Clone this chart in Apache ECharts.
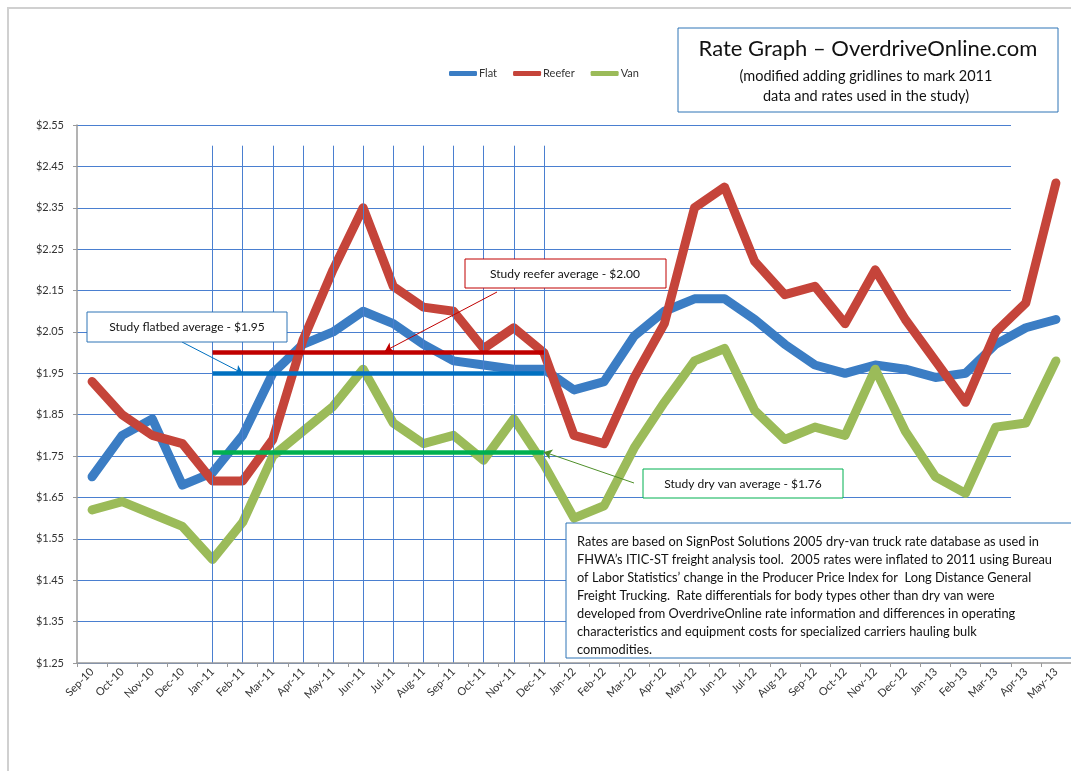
<!DOCTYPE html>
<html>
<head>
<meta charset="utf-8">
<script src="https://cdn.jsdelivr.net/npm/echarts@6/dist/echarts.min.js"></script>
<style>
  html, body { margin: 0; padding: 0; background: #ffffff; }
  #chart { width: 1071px; height: 771px; }
</style>
</head>
<body>
<div id="chart"></div>
<script>
// Monthly truck rates ($ per mile), Sep 2010 - May 2013
const months = ['Sep-10','Oct-10','Nov-10','Dec-10','Jan-11','Feb-11','Mar-11','Apr-11','May-11','Jun-11','Jul-11','Aug-11',
  'Sep-11','Oct-11','Nov-11','Dec-11','Jan-12','Feb-12','Mar-12','Apr-12','May-12','Jun-12','Jul-12','Aug-12',
  'Sep-12','Oct-12','Nov-12','Dec-12','Jan-13','Feb-13','Mar-13','Apr-13','May-13'];

const flat = [1.70, 1.80, 1.84, 1.68, 1.71, 1.80, 1.95, 2.02, 2.05, 2.10, 2.07, 2.02,
  1.98, 1.97, 1.96, 1.96, 1.91, 1.93, 2.04, 2.10, 2.13, 2.13, 2.08, 2.02,
  1.97, 1.95, 1.97, 1.96, 1.94, 1.95, 2.02, 2.06, 2.08];

const reefer = [1.93, 1.85, 1.80, 1.78, 1.69, 1.69, 1.79, 2.03, 2.20, 2.35, 2.16, 2.11,
  2.10, 2.01, 2.06, 2.00, 1.80, 1.78, 1.94, 2.07, 2.35, 2.40, 2.22, 2.14,
  2.16, 2.07, 2.20, 2.08, 1.98, 1.88, 2.05, 2.12, 2.41];

const van = [1.62, 1.64, 1.61, 1.58, 1.50, 1.59, 1.75, 1.81, 1.87, 1.96, 1.83, 1.78,
  1.80, 1.74, 1.84, 1.73, 1.60, 1.63, 1.77, 1.88, 1.98, 2.01, 1.86, 1.79,
  1.82, 1.80, 1.96, 1.81, 1.70, 1.66, 1.82, 1.83, 1.98];

// 2011 study period and the averages used in the study
const studyMonths = months.slice(4, 16);
const avgFlat = 1.95;
const avgReefer = 2.00;
const avgVan = 1.76;
const studyLineTop = 2.50;

// Value axis range and tick step
const yMin = 1.25;
const yMax = 2.55;
const yStep = 0.10;

const seriesNames = ['Flat', 'Reefer', 'Van'];
const colors = ['#3b7dc4', '#c5443a', '#9bbb59'];

const noteText = [
  'Rates are based on SignPost Solutions 2005 dry-van truck rate database as used in',
  'FHWA\u2019s ITIC-ST freight analysis tool.  2005 rates were inflated to 2011 using Bureau',
  'of Labor Statistics\u2019 change in the Producer Price Index for  Long Distance General',
  'Freight Trucking.  Rate differentials for body types other than dry van were',
  'developed from OverdriveOnline rate information and differences in operating',
  'characteristics and equipment costs for specialized carriers hauling bulk',
  'commodities.'
].join('\n');

const FONT = 'Lato, "Open Sans", sans-serif';
const chart = echarts.init(document.getElementById('chart'));

const gridTop = 125, gridHeight = 538;

chart.setOption({
  animation: false,
  backgroundColor: '#ffffff',
  textStyle: { fontFamily: FONT },
  legend: {
    data: seriesNames,
    left: 444,
    top: 63,
    icon: 'roundRect',
    itemWidth: 28,
    itemHeight: 5,
    itemGap: 16,
    textStyle: { fontSize: 11, color: '#333', padding: [0, 0, 0, -3], fontFamily: FONT }
  },
  grid: [
    { left: 77, top: gridTop, width: 934, height: gridHeight },
    { left: 77, top: gridTop, width: 998, height: gridHeight }
  ],
  xAxis: [
    { gridIndex: 0, type: 'value', min: 0, max: 1, show: false },
    {
      gridIndex: 1, type: 'category', data: months, z: 5,
      axisLine: { lineStyle: { color: '#9a9a9a', width: 1.5 } },
      axisTick: { show: true, length: 4, lineStyle: { color: '#9a9a9a' } },
      axisLabel: { rotate: 45, fontSize: 11, color: '#333', margin: 7, interval: 0 }
    }
  ],
  yAxis: [
    {
      gridIndex: 0, type: 'value', min: yMin, max: yMax, interval: yStep,
      axisLine: { show: true, lineStyle: { color: '#9a9a9a', width: 1.5 } },
      axisTick: { show: true, length: 4, lineStyle: { color: '#9a9a9a' } },
      axisLabel: { fontSize: 11, color: '#333', margin: 13, formatter: v => '$' + v.toFixed(2) },
      splitLine: { show: true, lineStyle: { color: '#4a7fd0', width: 1 } }
    },
    { gridIndex: 1, type: 'value', min: yMin, max: yMax, show: false }
  ],
  series: [
    ...[flat, reefer, van].map((d, i) => ({
      name: seriesNames[i],
      type: 'line',
      xAxisIndex: 1, yAxisIndex: 1,
      data: d,
      showSymbol: false,
      color: colors[i],
      lineStyle: { width: 9, color: colors[i], cap: 'round', join: 'round' },
      z: 2 + i
    })),
    {
      // 2011 month gridlines
      name: 'study-months',
      type: 'line', xAxisIndex: 1, yAxisIndex: 1, data: [], z: 6,
      markLine: {
        silent: true, symbol: 'none', animation: false,
        label: { show: false },
        lineStyle: { color: '#4a7fd0', width: 1, type: 'solid' },
        data: studyMonths.map(m => [{ coord: [m, studyLineTop] }, { coord: [m, yMin] }])
      }
    },
    {
      // study averages and their callout arrows
      name: 'study-averages',
      type: 'line', xAxisIndex: 1, yAxisIndex: 1, data: [], z: 7,
      markLine: {
        silent: true, symbol: 'none', animation: false,
        label: { show: false },
        data: [
          [{ coord: [studyMonths[0], avgReefer] }, { coord: [studyMonths[11], avgReefer], lineStyle: { color: '#c00000', width: 4.5, type: 'solid' } }],
          [{ coord: [studyMonths[0], avgFlat] }, { coord: [studyMonths[11], avgFlat], lineStyle: { color: '#0070c0', width: 4.5, type: 'solid' } }],
          [{ coord: [studyMonths[0], avgVan] }, { coord: [studyMonths[11], avgVan], lineStyle: { color: '#00b050', width: 4.5, type: 'solid' } }],
          [{ x: 182, y: 342, symbol: 'none' }, { coord: [studyMonths[1], avgFlat], symbol: 'arrow', symbolSize: 8, lineStyle: { color: '#0070c0', width: 1, type: 'solid' } }],
          [{ x: 497, y: 292, symbol: 'none' }, { x: 385, y: 351, symbol: 'arrow', symbolSize: 8, lineStyle: { color: '#c00000', width: 1, type: 'solid' } }],
          [{ x: 634, y: 483, symbol: 'none' }, { coord: [studyMonths[11], avgVan], symbol: 'arrow', symbolSize: 8, lineStyle: { color: '#4f8f2a', width: 1, type: 'solid' } }]
        ]
      }
    }
  ],
  graphic: [
    { type: 'rect', z: 0, shape: { x: 8, y: 8, width: 1100, height: 800 }, style: { fill: 'none', stroke: '#d0d0d0', lineWidth: 2 } },
    // title box
    { type: 'rect', z: 10, shape: { x: 678, y: 28, width: 380, height: 84 }, style: { fill: '#ffffff', stroke: '#2e75b6', lineWidth: 1 } },
    { type: 'text', z: 11, style: { text: 'Rate Graph \u2013 OverdriveOnline.com', x: 868, y: 49, textAlign: 'center', textVerticalAlign: 'middle', font: '22px ' + FONT, fill: '#111' } },
    { type: 'text', z: 11, style: { text: '(modified adding gridlines to mark 2011', x: 866, y: 76, textAlign: 'center', textVerticalAlign: 'middle', font: '14.5px ' + FONT, fill: '#111' } },
    { type: 'text', z: 11, style: { text: 'data and rates used in the study)', x: 866, y: 96, textAlign: 'center', textVerticalAlign: 'middle', font: '14.5px ' + FONT, fill: '#111' } },
    // callouts
    { type: 'rect', z: 10, shape: { x: 87, y: 312, width: 200, height: 30 }, style: { fill: '#ffffff', stroke: '#2e75b6', lineWidth: 1 } },
    { type: 'text', z: 11, style: { text: 'Study flatbed average - $1.95', x: 187, y: 327, textAlign: 'center', textVerticalAlign: 'middle', font: '12px ' + FONT, fill: '#111' } },
    { type: 'rect', z: 10, shape: { x: 465, y: 259, width: 201, height: 29 }, style: { fill: '#ffffff', stroke: '#c00000', lineWidth: 1 } },
    { type: 'text', z: 11, style: { text: 'Study reefer average - $2.00', x: 565, y: 274, textAlign: 'center', textVerticalAlign: 'middle', font: '12px ' + FONT, fill: '#111' } },
    { type: 'rect', z: 10, shape: { x: 643, y: 469, width: 200, height: 29 }, style: { fill: '#ffffff', stroke: '#00b050', lineWidth: 1 } },
    { type: 'text', z: 11, style: { text: 'Study dry van average - $1.76', x: 743, y: 484, textAlign: 'center', textVerticalAlign: 'middle', font: '12px ' + FONT, fill: '#111' } },
    // methodology note
    { type: 'rect', z: 10, shape: { x: 566, y: 523, width: 520, height: 135 }, style: { fill: '#ffffff', stroke: '#2e75b6', lineWidth: 1 } },
    { type: 'text', z: 11, style: { text: noteText, x: 577, y: 533, textAlign: 'left', textVerticalAlign: 'top', font: '12.8px ' + FONT, lineHeight: 18, fill: '#111' } }
  ]
});
</script>
</body>
</html>
